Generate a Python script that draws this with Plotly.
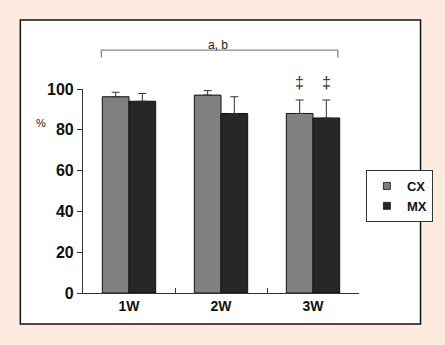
import plotly.graph_objects as go

categories = ["1W", "2W", "3W"]
cx_values = [96.2, 97.0, 88.0]
cx_err = [2.2, 2.2, 6.6]
mx_values = [94.0, 88.0, 85.8]
mx_err = [3.8, 8.2, 8.8]
y_ticks = [0, 20, 40, 60, 80, 100]
sig_marks = ["‡", "‡"]
bracket_label = "a, b"
series_names = ["CX", "MX"]
series_colors = ["#808080", "#262626"]

FONT = "Liberation Sans"

fig = go.Figure()
for name, vals, errs, col in zip(series_names, [cx_values, mx_values], [cx_err, mx_err], series_colors):
    fig.add_trace(go.Bar(
        name=name, x=categories, y=vals, showlegend=False,
        marker=dict(color=col, line=dict(color="#111111", width=1)),
        error_y=dict(type="data", array=errs, arrayminus=[0]*3, symmetric=False,
                     color="#333333", thickness=1, width=4),
    ))
# legend entries with small square swatches
for name, col in zip(series_names, series_colors):
    fig.add_trace(go.Scatter(
        name=name, x=[None], y=[None], mode="markers",
        marker=dict(symbol="square", size=7, color=col, line=dict(color="#111111", width=0.8)),
    ))

# outer white frame
fig.add_shape(type="rect", xref="paper", yref="paper",
              x0=-0.227, x1=1.223, y0=-0.152, y1=1.338,
              fillcolor="white", line=dict(color="#111111", width=1.5), layer="below")

# bracket
fig.add_shape(type="path", xref="x", yref="paper",
              path="M -0.30,1.155 L -0.30,1.191 L 2.27,1.191 L 2.27,1.155",
              line=dict(color="#888888", width=1.3))
fig.add_annotation(x=0.97, y=1.26, xref="x", yref="paper", text=bracket_label,
                   showarrow=False, font=dict(family=FONT, size=12, color="#222222"))

# significance marks over 3W
for i, m in enumerate(sig_marks):
    fig.add_annotation(x=2 + (-0.145 if i == 0 else 0.145), y=1.085, xref="x", yref="paper",
                       text=m, showarrow=False,
                       font=dict(family=FONT, size=16, color="#333333"))

fig.add_annotation(x=-0.179, y=0.873, xref="paper", yref="paper", text="%",
                   showarrow=False, font=dict(family=FONT, size=11, color="#222222"))

fig.update_layout(
    width=445, height=345,
    margin=dict(l=83, r=82, t=89, b=52),
    paper_bgcolor="#FDEBDF", plot_bgcolor="white",
    barmode="group", bargap=0.42, bargroupgap=0,
    showlegend=True,
    legend=dict(x=1.025, y=0.603, xanchor="left", yanchor="top",
                bgcolor="white", bordercolor="#333333", borderwidth=1,
                font=dict(family=FONT, size=13, color="#111111", weight="bold"),
                itemwidth=30, tracegroupgap=0),
    xaxis=dict(showline=True, linecolor="#333333", linewidth=1.2,
               ticks="inside", tickson="boundaries", ticklen=5, tickcolor="#333333",
               tickfont=dict(family=FONT, size=14, color="#111111", weight="bold"),
               showgrid=False, zeroline=False),
    yaxis=dict(range=[0, 100], tickvals=y_ticks, showline=True, linecolor="#333333",
               linewidth=1.2, ticks="outside", ticklen=5, tickcolor="#333333",
               tickfont=dict(family=FONT, size=16, color="#111111", weight="bold"),
               showgrid=False, zeroline=False),
)

fig.write_html("out.html")
